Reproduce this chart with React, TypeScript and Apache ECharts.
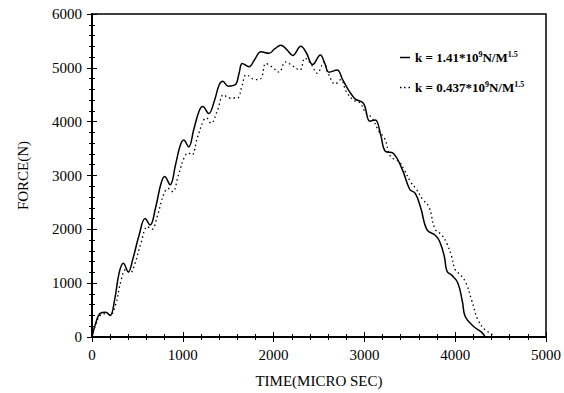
import React, { useEffect, useRef } from "react";
import * as echarts from "echarts";

const stiffTime = [0, 40, 90, 150, 200, 250, 300, 345, 400, 450, 520, 585, 640, 700, 760, 800, 860, 920, 970, 1010, 1065, 1120, 1180, 1220, 1285, 1350, 1400, 1440, 1500, 1580, 1620, 1655, 1730, 1790, 1860, 1950, 2010, 2080, 2150, 2210, 2300, 2360, 2430, 2515, 2560, 2610, 2700, 2760, 2810, 2860, 2900, 2990, 3060, 3120, 3180, 3230, 3320, 3420, 3500, 3560, 3620, 3690, 3780, 3830, 3880, 3910, 3960, 4030, 4080, 4110, 4200, 4290, 4330];
const stiffForce = [0, 250, 440, 460, 400, 700, 1200, 1370, 1210, 1450, 1900, 2200, 2080, 2400, 2850, 2980, 2830, 3200, 3550, 3660, 3530, 3850, 4200, 4280, 4150, 4400, 4680, 4750, 4660, 4690, 4900, 5080, 5020, 5150, 5300, 5270, 5350, 5420, 5330, 5230, 5400, 5280, 5060, 5240, 5100, 4920, 4960, 4780, 4630, 4500, 4420, 4340, 4010, 4030, 3750, 3450, 3410, 3100, 2740, 2670, 2400, 1990, 1890, 1770, 1500, 1220, 1150, 1000, 650, 380, 200, 90, 0];

const softTime = [0, 40, 90, 150, 200, 260, 320, 370, 420, 470, 540, 610, 660, 720, 790, 840, 890, 950, 1020, 1060, 1100, 1160, 1230, 1260, 1310, 1380, 1450, 1510, 1600, 1650, 1700, 1800, 1860, 1915, 1980, 2060, 2130, 2190, 2290, 2345, 2420, 2480, 2555, 2600, 2680, 2740, 2800, 2880, 2950, 3020, 3080, 3160, 3220, 3290, 3380, 3440, 3510, 3570, 3640, 3710, 3780, 3850, 3910, 3960, 4000, 4060, 4120, 4180, 4250, 4330, 4400, 4420];
const softForce = [0, 230, 400, 430, 410, 600, 1050, 1250, 1190, 1350, 1750, 2050, 2000, 2250, 2650, 2760, 2700, 3000, 3350, 3420, 3380, 3700, 4030, 4070, 3970, 4200, 4500, 4440, 4440, 4650, 4870, 4780, 4800, 5080, 5020, 4920, 5110, 5060, 4960, 5180, 5050, 4900, 5100, 4900, 4700, 4780, 4560, 4400, 4350, 4150, 4080, 3820, 3700, 3350, 3260, 3100, 2880, 2750, 2560, 2420, 2000, 1900, 1730, 1500, 1250, 1150, 1000, 690, 320, 130, 60, 0];

const seriesNames = ["k=1.41*10^9N/M^1.5", "k=0.437*10^9N/M^1.5"];
const xAxisTitle = "TIME(MICRO SEC)";
const yAxisTitle = "FORCE(N)";

const FONT = "'Liberation Serif', 'DejaVu Serif', serif";
const SOLID_ICON = "path://M0,0h10v1.5h-10z";
const DOTTED_ICON = "path://M0,0h1.5v1.5h-1.5z M4,0h1.5v1.5h-1.5z M8.5,0h1.5v1.5h-1.5z";

export default function App() {
  const ref = useRef<HTMLDivElement>(null);
  useEffect(() => {
    const chart = echarts.init(ref.current!, null, { renderer: "svg" });
    const pair = (t: number[], f: number[]) => t.map((v, i) => [v, f[i]]);
    const tickBase = {
      axisLine: { show: true, lineStyle: { color: "#000", width: 2 } },
      axisTick: { show: true, inside: true, length: 5, lineStyle: { color: "#000", width: 1 } },
      minorTick: { show: true, splitNumber: 5, length: 3, lineStyle: { color: "#000", width: 1 } },
      splitLine: { show: false },
    };
    const plain = (v: number) => String(v);
    chart.setOption({
      animation: false,
      backgroundColor: "#fff",
      grid: { left: 92, top: 14, right: 16, bottom: 56, show: true, borderColor: "#000", borderWidth: 1.5 },
      legend: {
        orient: "vertical",
        left: 395,
        top: 45,
        itemWidth: 10,
        itemHeight: 1.5,
        itemGap: 16,
        itemStyle: { color: "#000", borderWidth: 0 },
        lineStyle: { width: 0 },
        textStyle: {
          fontFamily: FONT,
          fontSize: 13,
          fontWeight: "bold",
          color: "#000",
          rich: {
            b: { fontFamily: FONT, fontSize: 13, fontWeight: "bold", color: "#000" },
            sup: { fontFamily: FONT, fontSize: 8, fontWeight: "bold", color: "#000", verticalAlign: "top", padding: [0, 0, 7, 0] },
          },
        },
        formatter: (name: string) => {
          const parts = name.replace("=", " = ").split(/\^([0-9.]+)/);
          return parts.map((p, i) => (i % 2 === 1 ? `{sup|${p}}` : p ? `{b|${p}}` : "")).join("");
        },
        data: [
          { name: seriesNames[0], icon: SOLID_ICON },
          { name: seriesNames[1], icon: DOTTED_ICON },
        ],
      },
      xAxis: [
        {
          type: "value",
          min: 0,
          max: 5000,
          interval: 1000,
          name: xAxisTitle,
          nameLocation: "middle",
          nameGap: 36,
          nameTextStyle: { fontFamily: FONT, fontSize: 15, color: "#000" },
          axisLabel: { fontFamily: FONT, fontSize: 15, color: "#000", margin: 10, formatter: plain },
          ...tickBase,
        },
        {
          type: "value",
          position: "top",
          min: 0,
          max: 5000,
          interval: 1000,
          axisLabel: { show: false },
          ...tickBase,
        },
      ],
      yAxis: [
        {
          type: "value",
          min: 0,
          max: 6000,
          interval: 1000,
          name: yAxisTitle,
          nameLocation: "middle",
          nameGap: 62,
          nameTextStyle: { fontFamily: FONT, fontSize: 15, color: "#000" },
          axisLabel: { fontFamily: FONT, fontSize: 15, color: "#000", margin: 10, formatter: plain },
          ...tickBase,
        },
        {
          type: "value",
          position: "right",
          min: 0,
          max: 6000,
          interval: 1000,
          axisLabel: { show: false },
          ...tickBase,
          axisLine: { show: true, lineStyle: { color: "#000", width: 1.5 } },
        },
      ],
      series: [
        {
          name: seriesNames[0],
          type: "line",
          data: pair(stiffTime, stiffForce),
          smooth: 0.4,
          symbol: "none",
          lineStyle: { color: "#000", width: 1.5, type: "solid" },
          itemStyle: { color: "#000" },
        },
        {
          name: seriesNames[1],
          type: "line",
          data: pair(softTime, softForce),
          smooth: 0.4,
          symbol: "none",
          lineStyle: { color: "#000", width: 1.3, type: [1.5, 3] },
          itemStyle: { color: "#000" },
        },
      ],
    });
    return () => chart.dispose();
  }, []);
  return <div ref={ref} style={{ width: 564, height: 393, position: "absolute", left: 0, top: 0 }} />;
}
